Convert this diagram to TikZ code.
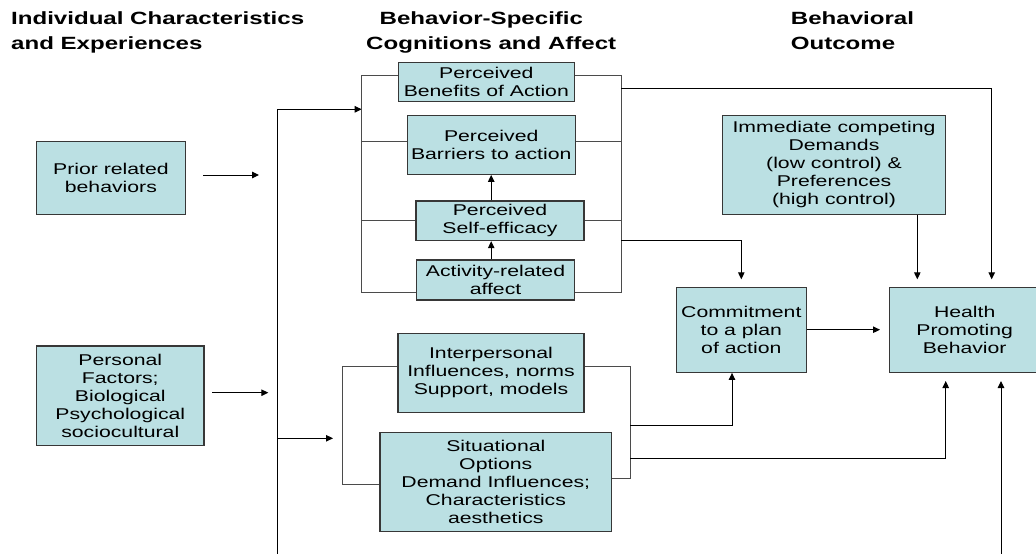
\documentclass[tikz,border=0pt]{standalone}
\usepackage{fontspec}
\setmainfont[FakeStretch=1.36]{Liberation Sans}
\usetikzlibrary{arrows.meta}
\definecolor{boxfill}{RGB}{187,224,227}
\definecolor{boxline}{RGB}{55,55,55}
\definecolor{linegray}{RGB}{75,75,75}
\begin{document}
\begin{tikzpicture}[x=1pt,y=-1pt,
  box/.style={draw=boxline, line width=1.1pt, fill=boxfill, inner sep=0pt, align=center, font=\fontsize{15.6}{18}\selectfont},
  head/.style={anchor=base west, inner sep=0pt, font=\fontsize{17.7}{25}\selectfont\bfseries},
  cline/.style={draw=linegray, line width=1pt},
  arr/.style={draw=black, line width=1pt, -{Triangle[length=7pt,width=6.5pt]}}]
\useasboundingbox (0,0) rectangle (1036,554);

% headers
\node[head] (h1a) at (11,24.3) {Individual Characteristics};
\node[head] (h1b) at (11,49.3) {and Experiences};
\node[head] (h2a) at (379.5,24.3) {Behavior-Specific};
\node[head] (h2b) at (366,49.3) {Cognitions and Affect};
\node[head] (h3a) at (790.7,24.3) {Behavioral};
\node[head] (h3b) at (790.7,49.3) {Outcome};

% boxes
\node[box, minimum width=148.3, minimum height=72.6] (prior) at (110.9,178) {Prior related\\behaviors};
\node[box, minimum width=167.3, minimum height=99.7] (pers) at (120.3,395.8) {Personal\\Factors;\\Biological\\Psychological\\sociocultural};
\node[box, minimum width=176, minimum height=39.4] (ben) at (486.3,82) {Perceived\\Benefits of Action};
\node[box, minimum width=167.7, minimum height=59.3] (bar) at (491.2,144.7) {Perceived\\Barriers to action};
\node[box, minimum width=168, minimum height=39.7] (self) at (500,220.8) {Perceived\\Self-efficacy};
\node[box, minimum width=157.6, minimum height=40] (act) at (495.5,280) {Activity-related\\affect};
\node[box, minimum width=222.6, minimum height=99.3] (imm) at (834,164.7) {Immediate competing\\Demands\\(low control) \&\\Preferences\\(high control)};
\node[box, minimum width=129.5, minimum height=85.3] (com) at (741.3,329.7) {Commitment\\to a plan\\of action};
\node[box, minimum width=150.7, minimum height=85.3] (hpb) at (964.7,329.7) {Health\\Promoting\\Behavior};
\node[box, minimum width=186, minimum height=79] (inter) at (491,372.8) {Interpersonal\\Influences, norms\\Support, models};
\node[box, minimum width=231.7, minimum height=98.7] (sit) at (495.8,481.7) {Situational\\Options\\Demand Influences;\\Characteristics\\aesthetics};

% free ends
\coordinate (p1) at (203,175);
\coordinate (p2) at (259,175);
\coordinate (q1) at (212.3,392.7);
\coordinate (q2) at (268.3,392.7);
\coordinate (vb) at (277.7,554);
\coordinate (vt) at (277.7,109.3);
\coordinate (ua) at (361.7,109.3);
\coordinate (ulT) at (361.7,75.7);
\coordinate (ulB) at (361.7,292.7);
\coordinate (urT) at (621,75.7);
\coordinate (urB) at (621,292.7);
\coordinate (va) at (277.7,438.3);
\coordinate (la) at (333,438.3);
\coordinate (llT) at (342.3,366);
\coordinate (llB) at (342.3,484);
\coordinate (lrT) at (630,366);
\coordinate (lrB) at (630,478.3);
\coordinate (t1) at (991.7,279.3);
\coordinate (t2) at (741.3,279.3);
\coordinate (t3) at (917.3,279.3);
\coordinate (t4) at (945.7,381);
\coordinate (t5) at (1001,381);
\coordinate (b5) at (1001,554);
\coordinate (t6) at (880,332.5);

% left inputs
\draw[arr] (p1) -- (p2);
\draw[arr] (q1) -- (q2);
\draw[arr] (vb) -- (vt) -- (ua);
\draw[arr] (va) -- (la);

% upper bracket
\draw[cline] (ben.west |- ulT) -- (ulT) -- (ulB) -- (act.west |- ulB);
\draw[cline] (361.7,141.7) -- (bar.west |- 0,141.7);
\draw[cline] (361.7,220.7) -- (self.west |- 0,220.7);
\draw[cline] (ben.east |- urT) -- (urT) -- (urB) -- (act.east |- urB);
\draw[cline] (621,141.7) -- (bar.east |- 0,141.7);
\draw[cline] (621,220.7) -- (self.east |- 0,220.7);

% inner arrows
\draw[arr] (self.north -| 491.2,0) -- (bar.south -| 491.2,0);
\draw[arr] (act.north -| 491.2,0) -- (self.south -| 491.2,0);

% outputs of upper bracket
\draw[arr] (621,88.7) -| (t1);
\draw[arr] (621,240.5) -| (t2);
\draw[arr] (imm.south -| t3) -- (t3);

% lower bracket
\draw[cline] (inter.west |- llT) -- (llT) -- (llB) -- (sit.west |- llB);
\draw[cline] (inter.east |- lrT) -- (lrT) -- (lrB) -- (sit.east |- lrB);
\draw[arr] (630,425) -| (com.south -| 732,0);
\draw[arr] (630,458.3) -| (t4);
\draw[arr] (b5) -- (t5);
\draw[arr] (com.east) -- (com.east -| t6);
\end{tikzpicture}
\end{document}
